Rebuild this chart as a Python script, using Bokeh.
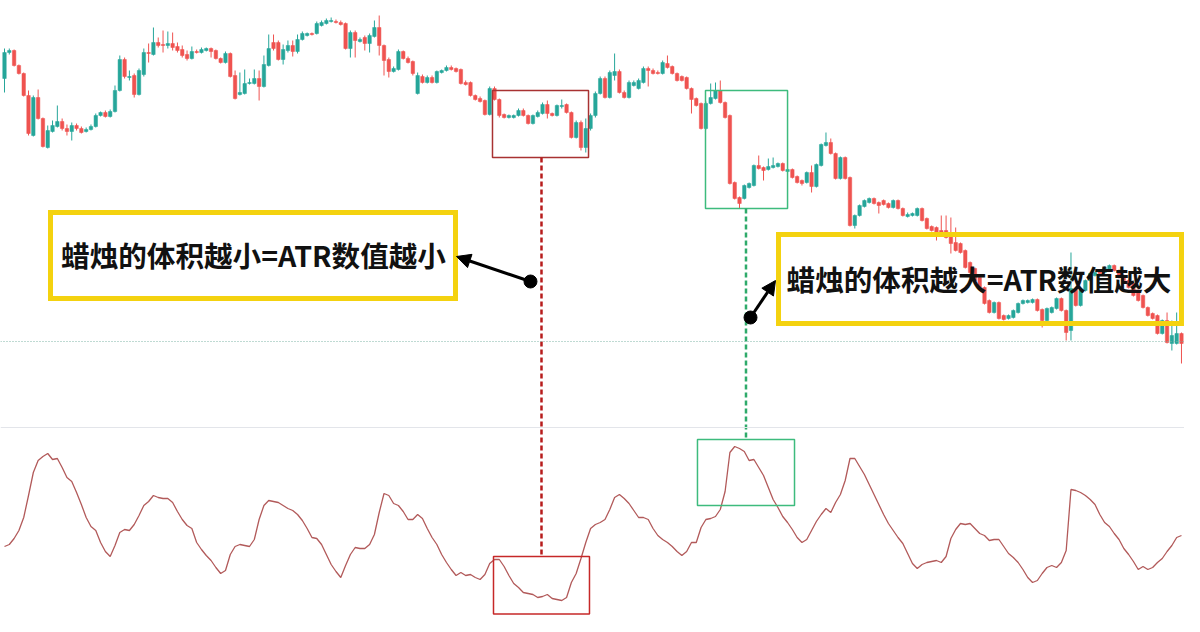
from bokeh.plotting import figure
from bokeh.models import Range1d, ColumnDataSource, Span, Label, Arrow, NormalHead
from bokeh.embed import file_html
from bokeh.resources import INLINE

# ---------------- data (price units, candle index order) ----------------
opens = [
    322, 348, 350, 335, 327, 305, 265, 303, 282, 253,
    269, 274, 279, 272, 269, 275, 272, 269, 271, 274,
    285, 288, 284, 289, 310, 341, 323, 325, 306, 326,
    348, 346, 358, 356, 355, 357, 354, 351, 346, 342,
    349, 348, 350, 352, 350, 342, 338, 347, 325, 306,
    307, 317, 317, 322, 314, 335, 358, 358, 341, 350,
    355, 349, 361, 365, 367, 367, 375, 377, 379, 379,
    378, 377, 352, 368, 359, 363, 357, 364, 373, 355,
    341, 329, 331, 349, 342, 339, 307, 324, 318, 323,
    318, 328, 330, 333, 332, 331, 318, 318, 305, 302,
    300, 286, 312, 301, 286, 283, 283, 285, 290, 285,
    277, 284, 287, 296, 287, 285, 294, 296, 288, 263,
    278, 253, 272, 285, 307, 322, 303, 325, 329, 308,
    303, 315, 312, 318, 332, 330, 328, 327, 337, 334,
    327, 324, 323, 312, 302, 297, 272, 297, 302, 310,
    298, 285, 218, 203, 202, 213, 215, 235, 233, 231,
    233, 234, 237, 229, 231, 224, 220, 218, 228, 214,
    235, 255, 258, 247, 222, 243, 223, 175, 185, 194,
    198, 202, 198, 200, 197, 193, 200, 192, 184, 185,
    185, 192, 182, 174, 173, 170, 170, 165, 158, 157,
    150, 138, 132, 123, 113, 100, 88, 98, 85, 82,
    83, 88, 97, 98, 98, 101, 91, 80, 88, 92,
    102, 90, 70, 112, 95, 110, 120, 125, 130, 128,
    130, 135, 130, 125, 120, 117, 110, 105, 93, 87,
    85, 67, 80, 57, 57, 67,
]
highs = [
    352, 352, 351, 336, 328, 310, 305, 311, 283, 275,
    280, 295, 282, 276, 278, 277, 274, 273, 276, 287,
    289, 290, 291, 315, 345, 343, 330, 327, 332, 352,
    357, 373, 363, 370, 369, 368, 358, 355, 350, 354,
    351, 353, 353, 353, 351, 343, 349, 348, 330, 328,
    331, 322, 331, 330, 345, 366, 366, 360, 356, 360,
    360, 366, 369, 368, 368, 379, 380, 382, 383, 381,
    380, 378, 370, 370, 363, 365, 367, 380, 385, 356,
    343, 334, 351, 350, 344, 340, 328, 326, 325, 325,
    330, 331, 335, 335, 333, 332, 320, 319, 306, 304,
    301, 314, 314, 302, 287, 286, 286, 292, 292, 286,
    286, 290, 298, 300, 288, 296, 301, 297, 289, 280,
    280, 282, 287, 309, 324, 324, 330, 347, 331, 310,
    320, 320, 322, 334, 334, 332, 330, 340, 345, 335,
    328, 325, 324, 313, 303, 298, 299, 317, 318, 320,
    299, 286, 219, 204, 216, 218, 236, 245, 234, 242,
    243, 238, 238, 232, 232, 225, 221, 229, 235, 237,
    257, 268, 262, 248, 244, 244, 224, 186, 196, 201,
    203, 203, 199, 201, 198, 201, 201, 193, 188, 188,
    193, 193, 183, 175, 174, 185, 185, 183, 173, 158,
    151, 139, 133, 124, 114, 101, 99, 99, 86, 86,
    91, 98, 101, 101, 102, 102, 92, 93, 94, 103,
    103, 91, 148, 113, 111, 121, 128, 129, 131, 134,
    136, 136, 131, 126, 121, 118, 111, 106, 94, 88,
    86, 81, 88, 80, 88, 68,
]
lows = [
    308, 346, 334, 326, 304, 265, 264, 281, 253, 252,
    268, 273, 270, 265, 260, 270, 267, 268, 270, 273,
    284, 283, 283, 288, 309, 322, 320, 303, 305, 324,
    338, 345, 353, 348, 352, 350, 348, 343, 340, 341,
    347, 347, 349, 343, 341, 337, 337, 323, 301, 305,
    306, 316, 316, 300, 313, 334, 350, 340, 336, 348,
    344, 347, 360, 364, 365, 366, 374, 376, 378, 377,
    375, 351, 343, 343, 358, 350, 348, 363, 345, 325,
    323, 328, 330, 341, 337, 325, 306, 317, 317, 317,
    317, 327, 329, 330, 328, 316, 315, 304, 300, 298,
    285, 285, 300, 283, 282, 282, 282, 284, 284, 276,
    276, 283, 286, 282, 284, 284, 292, 287, 262, 262,
    250, 248, 270, 283, 306, 302, 302, 320, 307, 302,
    302, 314, 311, 317, 314, 326, 326, 326, 332, 326,
    319, 319, 311, 287, 294, 271, 271, 296, 301, 297,
    282, 216, 201, 192, 201, 212, 214, 231, 220, 230,
    232, 233, 229, 228, 222, 217, 215, 217, 208, 213,
    234, 254, 246, 221, 221, 221, 174, 172, 184, 193,
    197, 196, 187, 195, 192, 192, 191, 184, 183, 184,
    184, 179, 171, 169, 160, 166, 162, 147, 149, 147,
    132, 127, 119, 112, 96, 87, 87, 81, 80, 81,
    82, 87, 96, 97, 97, 89, 73, 79, 87, 91,
    89, 60, 60, 94, 94, 109, 119, 124, 126, 127,
    129, 129, 122, 119, 112, 104, 99, 92, 84, 81,
    66, 66, 57, 50, 56, 37,
]
closes = [
    348, 350, 335, 327, 305, 267, 303, 282, 254, 270,
    275, 279, 272, 269, 275, 272, 268, 271, 274, 285,
    288, 284, 289, 310, 341, 324, 324, 306, 330, 348,
    347, 358, 355, 355, 357, 353, 350, 345, 342, 349,
    348, 351, 352, 349, 342, 338, 347, 324, 302, 308,
    317, 318, 322, 314, 336, 352, 352, 341, 351, 355,
    349, 361, 367, 367, 366, 377, 378, 380, 380, 378,
    376, 352, 368, 360, 361, 357, 365, 373, 355, 340,
    329, 332, 349, 342, 338, 327, 325, 318, 323, 318,
    329, 330, 333, 331, 329, 317, 316, 305, 301, 299,
    286, 312, 301, 285, 283, 285, 285, 290, 285, 277,
    285, 288, 296, 287, 285, 295, 295, 288, 263, 278,
    253, 272, 285, 307, 322, 303, 328, 329, 308, 303,
    318, 318, 320, 332, 330, 327, 327, 338, 333, 327,
    320, 320, 312, 301, 295, 272, 297, 303, 310, 298,
    283, 217, 202, 197, 215, 217, 235, 232, 230, 234,
    235, 237, 230, 231, 223, 218, 217, 228, 214, 236,
    256, 258, 247, 222, 243, 222, 175, 185, 195, 200,
    202, 197, 195, 196, 193, 200, 192, 185, 186, 187,
    192, 180, 172, 170, 168, 167, 163, 157, 150, 148,
    133, 128, 120, 113, 97, 88, 98, 82, 81, 85,
    90, 97, 100, 100, 101, 90, 80, 92, 93, 102,
    90, 68, 112, 95, 110, 120, 127, 128, 127, 133,
    135, 130, 123, 120, 113, 105, 100, 93, 85, 82,
    67, 80, 58, 65, 67, 57,
]
atr = [
    7.4, 7.6, 8.2, 9.0, 10.3, 12.5, 14.8, 16.0, 16.4, 16.7,
    16.1, 16.2, 15.3, 14.3, 13.9, 12.8, 11.6, 10.3, 9.4, 9.0,
    7.8, 6.9, 6.4, 7.5, 8.8, 9.1, 9.0, 9.6, 10.5, 11.5,
    11.9, 12.5, 12.3, 12.2, 12.2, 11.8, 10.9, 10.1, 9.5, 9.2,
    7.8, 7.1, 6.5, 6.0, 5.3, 4.7, 5.0, 6.6, 7.4, 7.6,
    7.5, 7.4, 8.1, 10.1, 11.5, 12.0, 11.9, 11.8, 11.5, 11.2,
    11.0, 10.6, 10.0, 9.2, 8.3, 8.2, 7.6, 6.6, 5.6, 4.9,
    4.3, 5.5, 6.6, 7.3, 7.2, 7.2, 7.6, 8.6, 10.8, 12.7,
    12.5, 11.7, 11.5, 10.9, 10.1, 10.1, 10.6, 10.2, 9.2, 8.3,
    7.6, 6.6, 5.8, 5.1, 4.5, 4.8, 4.5, 4.6, 4.3, 4.1,
    4.6, 5.7, 6.1, 6.1, 5.4, 4.5, 3.7, 3.3, 2.8, 2.7,
    2.6, 2.3, 2.4, 2.6, 2.2, 2.1, 2.0, 2.3, 3.8, 4.7,
    6.2, 7.8, 9.2, 9.6, 9.8, 10.1, 11.1, 12.3, 12.6, 12.2,
    11.7, 11.0, 10.3, 10.3, 10.1, 9.2, 8.5, 8.1, 7.8, 7.4,
    6.9, 6.5, 6.9, 7.8, 7.8, 9.3, 10.1, 10.2, 10.4, 11.1,
    12.9, 16.8, 17.4, 17.2, 16.9, 16.0, 16.1, 15.3, 14.5, 13.3,
    12.1, 11.3, 10.4, 9.8, 9.1, 8.3, 7.8, 8.1, 9.0, 9.9,
    10.6, 11.2, 10.8, 11.8, 12.6, 14.0, 16.2, 16.2, 15.4, 14.6,
    13.6, 12.6, 11.6, 10.6, 9.7, 9.0, 8.3, 7.7, 6.7, 5.7,
    5.2, 5.6, 5.8, 5.9, 6.0, 5.8, 6.4, 8.2, 9.1, 9.7,
    9.6, 9.7, 9.2, 8.7, 8.5, 8.0, 8.1, 8.1, 7.4, 6.7,
    6.3, 5.8, 5.1, 4.3, 3.8, 4.0, 4.7, 5.3, 5.5, 5.3,
    5.8, 7.0, 13.1, 13.0, 12.8, 12.5, 12.1, 11.6, 10.6, 9.8,
    9.4, 8.7, 8.1, 7.2, 6.6, 5.9, 5.1, 5.4, 5.1, 5.3,
    5.8, 6.2, 6.9, 7.5, 8.3, 8.5,
]

label_small = "蜡烛的体积越小=ATR数值越小"
label_large = "蜡烛的体积越大=ATR数值越大"

# ---------------- styling ----------------
UP = "#26a69a"
DOWN = "#ef5350"
YELLOW = "#f4d20f"
GREEN_BOX = "#3dbb7d"
RED_BOX = "#a83232"

n = len(closes)
idx = list(range(n))
colors = [UP if c >= o else DOWN for o, c in zip(opens, closes)]
src = ColumnDataSource(dict(
    i=idx, open=opens, high=highs, low=lows, close=closes,
    top=[max(o, c) for o, c in zip(opens, closes)],
    bottom=[min(o, c) for o, c in zip(opens, closes)],
    color=colors,
))

p = figure(width=1184, height=616,
           x_range=Range1d(-0.833, 245.63), y_range=Range1d(-216, 400),
           output_backend="svg", toolbar_location=None,
           x_axis_location=None, y_axis_location=None,
           min_border=0, min_border_left=0, min_border_right=0,
           min_border_top=0, min_border_bottom=0)
p.extra_y_ranges = {"atr": Range1d(0.4, 62.0)}
p.grid.visible = False
p.outline_line_color = None
p.background_fill_color = "white"
p.border_fill_color = "white"

# pane separator and last-price dotted line
p.add_layout(Span(location=-27, dimension="width", line_color="#e3e5ea", line_width=1))
p.add_layout(Span(location=59, dimension="width", line_color="#7fb5a6", line_width=1, line_dash="1 2"))

# candles
p.segment(x0="i", y0="high", x1="i", y1="low", source=src, line_color="color", line_width=1)
p.vbar(x="i", width=0.72, top="top", bottom="bottom", source=src,
       fill_color="color", line_color="color", line_width=0.5)

# ATR line
p.line(idx, atr, y_range_name="atr", line_color="#b25a5a", line_width=1.3)

# highlight boxes
p.quad(left=[101.58], right=[121.57], top=[310], bottom=[243],
       fill_color=None, line_color=RED_BOX, line_width=1.5)
p.quad(left=[101.79], right=[121.77], top=[6.4], bottom=[0.65], y_range_name="atr",
       fill_color=None, line_color="#c62828", line_width=1.5)
p.quad(left=[145.92], right=[163.0], top=[310], bottom=[192],
       fill_color=None, line_color=GREEN_BOX, line_width=1.5)
p.quad(left=[144.25], right=[164.45], top=[18.1], bottom=[11.5], y_range_name="atr",
       fill_color=None, line_color=GREEN_BOX, line_width=1.5)

# connecting dashed lines
p.segment(x0=[111.78], y0=[243], x1=[111.78], y1=[-156],
          line_color="#b71c1c", line_width=2.5, line_dash="5 3")
p.segment(x0=[154.35], y0=[192], x1=[154.35], y1=[-38],
          line_color="#2eaa6a", line_width=2.5, line_dash="5 3")

# yellow callout boxes
p.quad(left=[9.58], right=[93.88], top=[188], bottom=[102],
       fill_color=None, line_color=YELLOW, line_width=5, line_join="miter")
p.quad(left=[161.12], right=[245.0], top=[166], bottom=[77],
       fill_color=None, line_color=YELLOW, line_width=5, line_join="miter")

# arrows and dots
p.add_layout(Arrow(x_start=109.49, y_start=119, x_end=94.09, y_end=144,
                   line_width=3, line_color="black",
                   end=NormalHead(size=14, fill_color="black", line_color="black")))
p.add_layout(Arrow(x_start=155.29, y_start=83, x_end=160.49, y_end=120,
                   line_width=3, line_color="black",
                   end=NormalHead(size=14, fill_color="black", line_color="black")))
p.scatter([109.49, 155.29], [119, 83], size=13, color="black")

# texts
for x, y, t in [(51.83, 146.5, label_small), (202.85, 122.5, label_large)]:
    p.add_layout(Label(x=x, y=y, text=t, text_align="center", text_baseline="middle",
                       text_font="Noto Sans CJK SC", text_font_style="bold",
                       text_font_size="28.6px", text_color="#111111"))

open("out.html", "w").write(file_html(p, INLINE, title="ATR"))
